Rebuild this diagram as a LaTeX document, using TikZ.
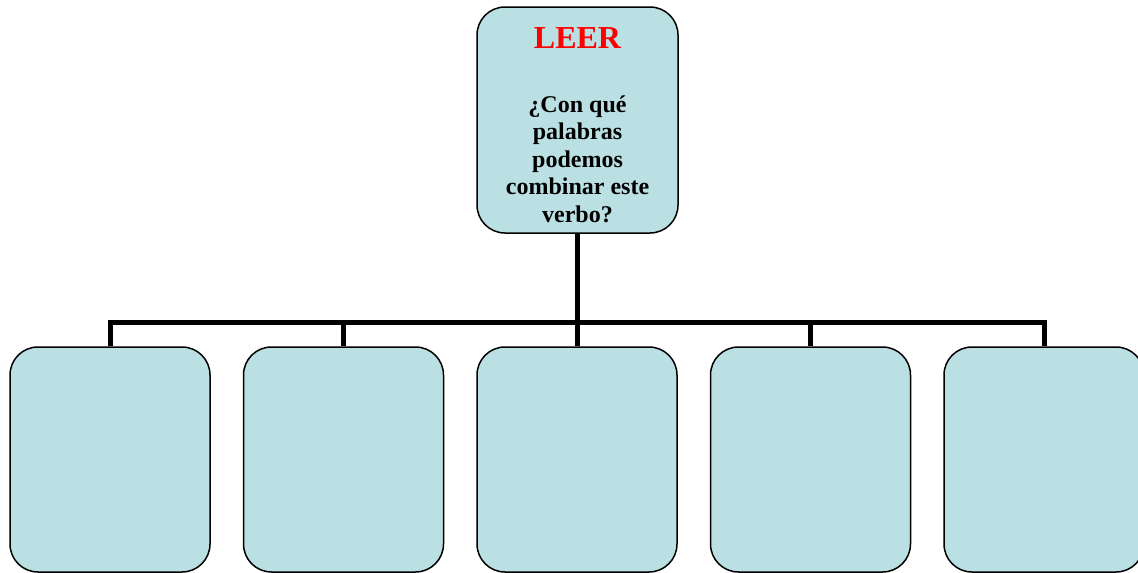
\documentclass[tikz,border=0pt]{standalone}
\usepackage{fontspec}
\setmainfont{Liberation Serif}
\definecolor{cajaazul}{HTML}{BBE0E3}
\begin{document}
\begin{tikzpicture}[x=1pt,y=-1pt,
		caja/.style={draw=black,line width=1.5pt,fill=cajaazul,rounded corners=28pt,
			minimum width=200pt,minimum height=225pt,inner sep=0pt},
		conector/.style={line width=5pt,black}]
		\useasboundingbox (0,0) rectangle (1138,573);
		\pgfmathsetmacro{\dx}{233.5};
		% cuadro principal
		\node[caja,minimum width=201pt,minimum height=226pt] (leer) at (577.5,120) {};
		\node[anchor=base,inner sep=0pt,text=red,font=\bfseries\fontsize{32}{36}\selectfont] (titulo) at (577.5,48) {LEER};
		\node[anchor=south,inner sep=0pt,align=center,font=\bfseries\fontsize{24}{27.5}\selectfont] (pregunta) at (577.5,223)
			{¿Con qué\\palabras\\podemos\\combinar este\\verbo?};
		% cuadros vacios
		\foreach \i in {1,...,5}
			\node[caja] (caja\i) at ({110+(\i-1)*\dx},459.5) {};
		\coordinate (bus) at (577.5,322);
		\draw[conector] (leer.south) -- (bus);
		\draw[conector] (caja1.north) -- (caja1.north |- bus) -- (caja5.north |- bus) -- (caja5.north);
		\foreach \i in {2,3,4}
			\draw[conector] (caja\i.north |- bus) -- (caja\i.north);
	\end{tikzpicture}
\end{document}
